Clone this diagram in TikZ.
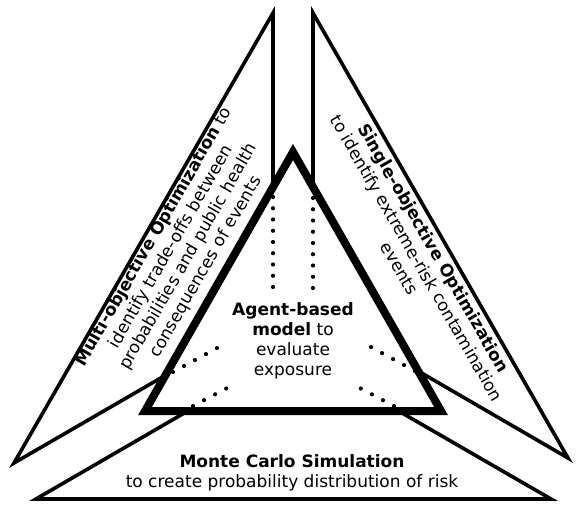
\documentclass[tikz,border=0pt]{standalone}
\usepackage{fontspec}
\setmainfont{DejaVu Sans}
\tikzset{
  wing/.style = {draw=black, fill=white, line width=3.6pt},
  core/.style = {draw=black, fill=white, line width=8pt},
  hidden/.style = {line width=4.2pt, line cap=round,
    dash pattern=on 0pt off #1},
  hidden/.default = 12.5pt,
  txt/.style = {align=center, inner sep=1pt, text centered,
    font=\fontsize{17}{20}\selectfont}
}

\begin{document}
\begin{tikzpicture}[x=1pt, y=-1pt]
\useasboundingbox (0,0) rectangle (576,508);

% the three outer triangles
\coordinate (ltop) at (273,13);
\coordinate (ltip) at (14,463);
\coordinate (lin)  at (273,313);
\coordinate (rtop) at (313,13);
\coordinate (rtip) at (568,458);
\coordinate (rin)  at (313,310);
\coordinate (bl)   at (36,499);
\coordinate (br)   at (551,499);
\coordinate (bin)  at (293,350);
\draw [wing] (ltop) -- (ltip) -- (lin) -- cycle;
\draw [wing] (rtop) -- (rtip) -- (rin) -- cycle;
\draw [wing] (bl) -- (br) -- (bin) -- cycle;

% agent-based model in the middle
\coordinate (apex) at (293,152);
\coordinate (cl)   at (145,411);
\coordinate (cr)   at (441,411);
\draw [core] (apex) -- (cl) -- (cr) -- cycle;

% hidden edges
\coordinate (h1a) at (273,197); \coordinate (h1b) at (273,290);
\coordinate (h2a) at (313,198); \coordinate (h2b) at (313,291);
\coordinate (h3a) at (173,372); \coordinate (h3b) at (219,347);
\coordinate (h4a) at (193,406); \coordinate (h4b) at (229,387);
\coordinate (h5a) at (415,371); \coordinate (h5b) at (369,346);
\coordinate (h6a) at (394,406); \coordinate (h6b) at (358,387);
\draw [hidden=11.25pt] (h1a) -- (h1b);
\draw [hidden=11.25pt] (h2a) -- (h2b);
\draw [hidden] (h3a) -- (h3b);
\draw [hidden] (h4a) -- (h4b);
\draw [hidden] (h5a) -- (h5b);
\draw [hidden] (h6a) -- (h6b);

% labels
\node [txt] (abm) at (293,341) {\textbf{Agent-based}\\\textbf{model} to\\evaluate\\exposure};
\node [txt] (mcs) at (292,473) {\textbf{Monte Carlo Simulation}\\to create probability distribution of risk};
\node [txt, rotate=60] (moo) at (180,252) {\textbf{Multi-objective Optimization} to\\identify trade-offs between\\probabilities and public health\\consequences of events};
\node [txt, rotate=-60] (soo) at (417,258) {\textbf{Single-objective Optimization}\\to identify extreme-risk contamination\\events};
\end{tikzpicture}
\end{document}
